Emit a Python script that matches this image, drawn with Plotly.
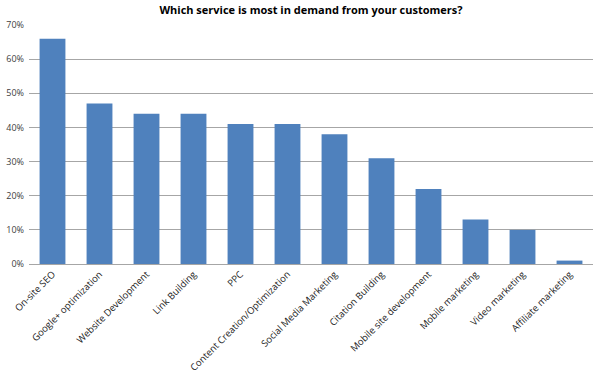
import plotly.graph_objects as go

categories = ["On-site SEO", "Google+ optimization", "Website Development", "Link Building",
              "PPC", "Content Creation/Optimization", "Social Media Marketing", "Citation Building",
              "Mobile site development", "Mobile marketing", "Video marketing", "Affiliate marketing"]
values = [0.66, 0.47, 0.44, 0.44, 0.41, 0.41, 0.38, 0.31, 0.22, 0.13, 0.10, 0.01]
y_ticks = [0, 0.1, 0.2, 0.3, 0.4, 0.5, 0.6, 0.7]
y_labels = ["0%", "10%", "20%", "30%", "40%", "50%", "60%", "70%"]

fig = go.Figure(go.Bar(x=categories, y=values, marker=dict(color="#4F81BD", line=dict(width=0)),
                       width=0.55))

fig.update_layout(
    width=600, height=388,
    margin=dict(l=29, r=7, t=25, b=124, autoexpand=False),
    paper_bgcolor="white", plot_bgcolor="white",
    font=dict(family="Open Sans, Liberation Sans, sans-serif", size=10, color="#333333"),
    title=dict(text="<b>Which service is most in demand from your customers?</b>",
               x=0.5, xanchor="center", xref="paper", yref="container",
               y=1 - 10 / 388, yanchor="middle",
               font=dict(size=11, color="#000000")),
    showlegend=False,
    bargap=0.45,
)
fig.update_yaxes(range=[0, 0.7], tickvals=y_ticks, ticktext=y_labels, showgrid=True,
                 gridcolor="#a6a6a6", gridwidth=1, zeroline=False, showline=False,
                 ticks="", tickfont=dict(size=9, color="#404040"), ticklabelstandoff=4,
                 automargin=False)
fig.update_xaxes(tickangle=-45, showline=True, linecolor="#a6a6a6", linewidth=1,
                 ticks="", tickfont=dict(size=9.5, color="#222222"), automargin=False)

fig.write_html("out.html", config={"displayModeBar": False},
               post_script="document.body.style.margin='0';document.body.style.overflow='hidden';")
